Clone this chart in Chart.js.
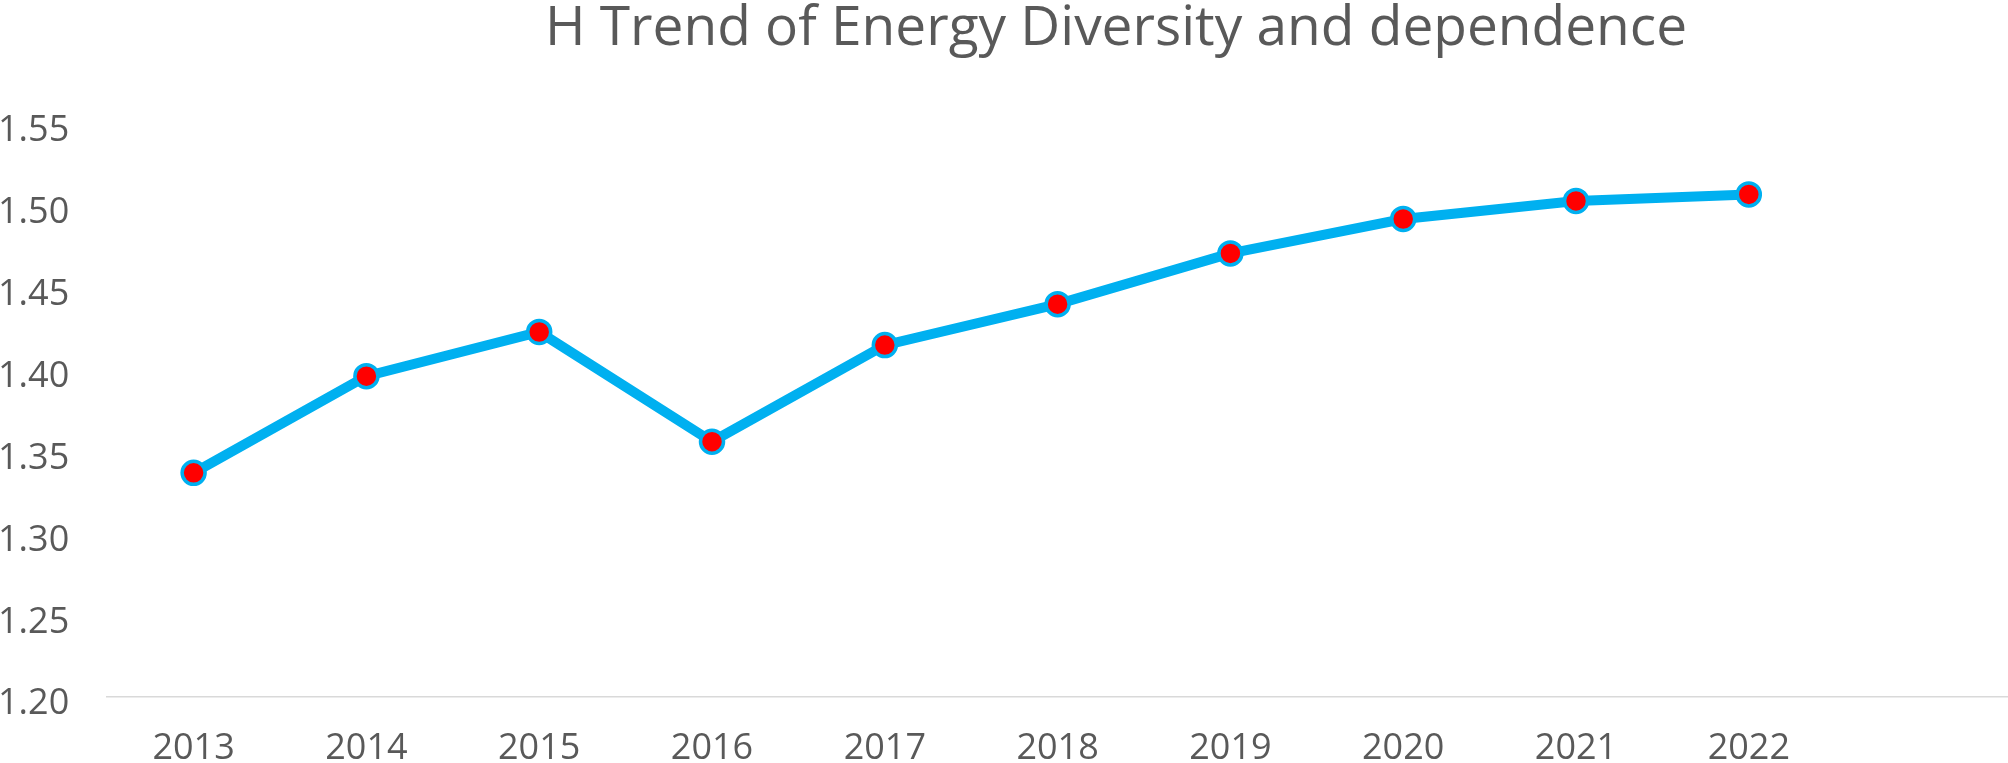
<!DOCTYPE html>
<html>
<head>
<meta charset="utf-8">
<script src="https://cdn.jsdelivr.net/npm/chart.js@4.4.1/dist/chart.umd.min.js"></script>
<style>
  html, body { margin: 0; padding: 0; background: #fff; }
  #wrap { width: 2008px; height: 763px; }
</style>
</head>
<body>
<div id="wrap"><canvas id="hChart"></canvas></div>
<script>
// data
const years = ["2013", "2014", "2015", "2016", "2017", "2018", "2019", "2020", "2021", "2022"];
const hValues = [1.337, 1.396, 1.423, 1.356, 1.415, 1.440, 1.471, 1.492, 1.503, 1.507];
// the category axis keeps one empty slot after 2022
const xLabels = years.concat([""]);
const yTicks = { min: 1.20, max: 1.55, step: 0.05 };

const grey = "#595959";

// nudge the title to the right, where the original places it
const titleShift = {
  id: "titleShift",
  afterLayout(chart) {
    if (chart.titleBlock) {
      chart.titleBlock.left += 264;
    }
  }
};

new Chart(document.getElementById("hChart"), {
  type: "line",
  data: {
    labels: xLabels,
    datasets: [{
      label: "H",
      data: hValues,
      borderColor: "#00B0F0",
      borderWidth: 10,
      pointBackgroundColor: "#FF0000",
      pointBorderColor: "#00B0F0",
      pointBorderWidth: 3.5,
      pointRadius: 11.5,
      pointHoverRadius: 11.5,
      tension: 0
    }]
  },
  options: {
    responsive: true,
    maintainAspectRatio: false,
    animation: false,
    layout: { autoPadding: false, padding: { left: -40, right: 0, top: 0, bottom: -37 } },
    plugins: {
      legend: { display: false },
      tooltip: { enabled: false },
      title: {
        display: true,
        text: "H Trend of Energy Diversity and dependence",
        color: grey,
        font: { family: "Open Sans", size: 55, weight: "normal", lineHeight: 1.0 },
        padding: { top: 2, bottom: 67 }
      }
    },
    scales: {
      x: {
        type: "category",
        offset: true,
        grid: { display: false, drawTicks: false },
        border: { display: true, color: "#D9D9D9", width: 1.5 },
        ticks: {
          color: grey,
          font: { family: "Open Sans", size: 36, lineHeight: 0.8 },
          padding: 37,
          maxRotation: 0,
          autoSkip: false
        }
      },
      y: {
        min: yTicks.min,
        max: yTicks.max,
        grid: { display: false, drawTicks: false },
        border: { display: false },
        ticks: {
          stepSize: yTicks.step,
          color: grey,
          font: { family: "Open Sans", size: 36 },
          padding: 38,
          labelOffset: 7,
          callback: v => v.toFixed(2)
        }
      }
    }
  },
  plugins: [titleShift]
});
</script>
</body>
</html>
